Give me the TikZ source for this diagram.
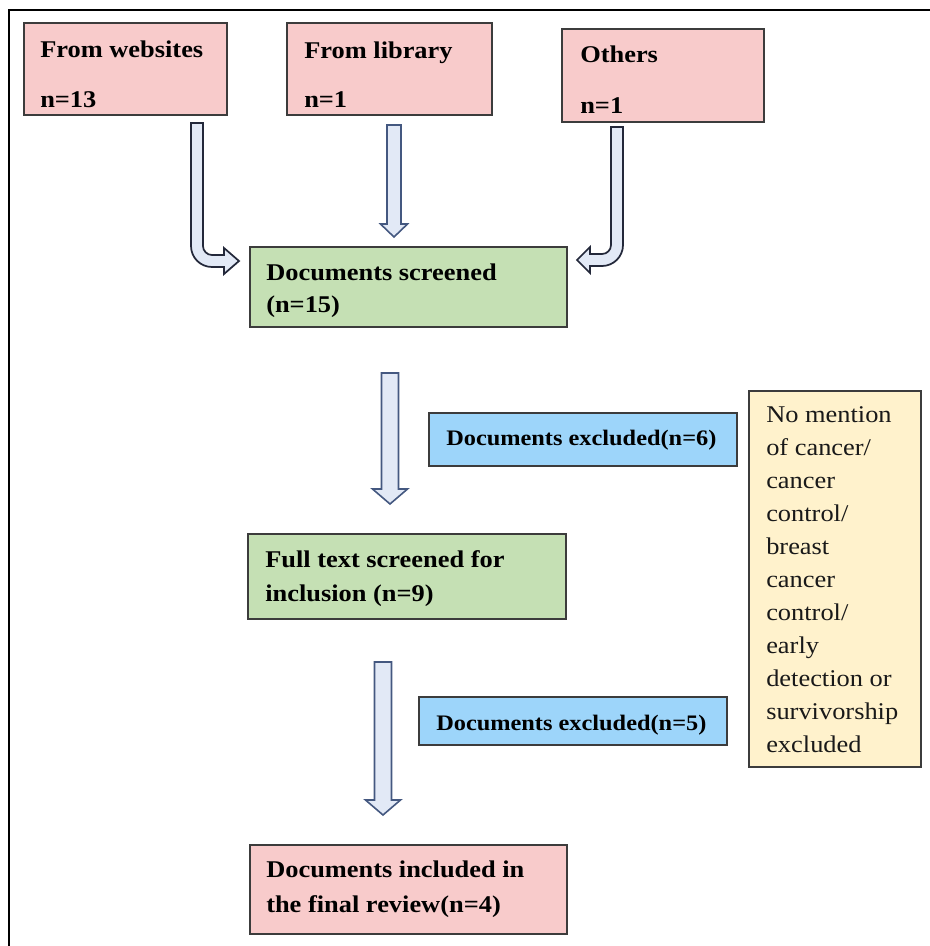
\documentclass[tikz,border=0pt]{standalone}
\usepackage{fontspec}
\setmainfont{Liberation Serif}[FakeStretch=1.1]
\usetikzlibrary{fit}

\definecolor{pinkfill}{RGB}{248,203,203}
\definecolor{greenfill}{RGB}{197,224,180}
\definecolor{bluefill}{RGB}{157,213,250}
\definecolor{notefill}{RGB}{255,242,204}
\definecolor{boxline}{RGB}{60,60,60}
\definecolor{arrowfill}{RGB}{226,233,246}
\definecolor{arrowedge}{RGB}{68,88,128}
\definecolor{bentedge}{RGB}{35,40,58}

\begin{document}
\begin{tikzpicture}[x=0.75pt,y=-0.75pt,
  box/.style={draw=boxline, line width=1.1pt, inner sep=0pt, rectangle},
  bold/.style={font=\fontsize{18}{22}\selectfont\bfseries, inner sep=0pt, anchor=base west, text=black},
  boldsmall/.style={font=\fontsize{16.6}{20}\selectfont\bfseries, inner sep=0pt, anchor=base west, text=black},
  plain/.style={font=\fontsize{18}{22}\selectfont, inner sep=0pt, anchor=base west, text=black!90},
  blockarrow/.style={draw=arrowedge, fill=arrowfill, line width=1.2pt, line join=miter},
  bentarrow/.style={draw=bentedge, fill=arrowfill, line width=1.3pt, line join=miter}]

\useasboundingbox (0,0) rectangle (930,946);

% outer frame (only top and left edges fall inside the page)
\draw[line width=1.8pt] (9,946) -- (9,10) -- (930,10);

% sources
\node[box, fill=pinkfill, fit={(24,23) (227,115)}] (web) {};
\node[bold] (web-1) at (40,57) {From websites};
\node[bold] (web-2) at (40,107) {n=13};

\node[box, fill=pinkfill, fit={(287,23) (492,115)}] (lib) {};
\node[bold] (lib-1) at (304,58) {From library};
\node[bold] (lib-2) at (304,107) {n=1};

\node[box, fill=pinkfill, fit={(562,29) (764,122)}] (oth) {};
\node[bold] (oth-1) at (580,62) {Others};
\node[bold] (oth-2) at (580,113) {n=1};

% screening stages
\node[box, fill=greenfill, fit={(250,247) (567,327)}] (scr) {};
\node[bold] (scr-1) at (266,280) {Documents screened};
\node[bold] (scr-2) at (266,312) {(n=15)};

\node[box, fill=bluefill, fit={(429,413) (737,466)}] (exc1) {};
\node[boldsmall] (exc1-t) at (446,445) {Documents excluded(n=6)};

\node[box, fill=greenfill, fit={(248,534) (566,619)}] (full) {};
\node[bold] (full-1) at (265,567) {Full text screened for};
\node[bold] (full-2) at (265,601) {inclusion (n=9)};

\node[box, fill=bluefill, fit={(419,697) (727,745)}] (exc2) {};
\node[boldsmall] (exc2-t) at (436,730) {Documents excluded(n=5)};

\node[box, fill=pinkfill, fit={(250,845) (567,934)}] (fin) {};
\node[bold] (fin-1) at (266,877) {Documents included in};
\node[bold] (fin-2) at (266,912) {the final review(n=4)};

% exclusion reasons
\node[box, fill=notefill, fit={(749,391) (921,767)}] (note) {};
\foreach \t [count=\i from 0] in {No mention, of cancer/, cancer, control/, breast,
    cancer, control/, early, detection or, survivorship, excluded}
  \node[plain] (note-\i) at (766,422.7+33*\i) {\t};

% arrow tails
\coordinate (webarrow) at (197,123);
\coordinate (libarrow) at (394,125);
\coordinate (otharrow) at (617,127);
\coordinate (scrarrow) at (390,373);
\coordinate (fullarrow) at (383,662);

% bent arrow: websites -> screened
\draw[bentarrow, shift={(webarrow)}]
  (-6,0) -- (-6,123) arc[start angle=180, end angle=90, radius=21]
  -- (27,144) -- (27,151) -- (42,138) -- (27,125) -- (27,132) -- (15,132)
  arc[start angle=90, end angle=180, radius=9] -- (6,0) -- cycle;

% straight arrow: library -> screened
\draw[blockarrow, shift={(libarrow)}]
  (-7,0) -- (-7,99) -- (-13.5,99) -- (0,112) -- (13.5,99) -- (7,99) -- (7,0) -- cycle;

% bent arrow: others -> screened
\draw[bentarrow, shift={(otharrow)}]
  (-6,0) -- (-6,118) arc[start angle=0, end angle=90, radius=9]
  -- (-27,127) -- (-27,120) -- (-40,133) -- (-27,146) -- (-27,139) -- (-15,139)
  arc[start angle=90, end angle=0, radius=21] -- (6,0) -- cycle;

% screened -> full text
\draw[blockarrow, shift={(scrarrow)}]
  (-8.5,0) -- (-8.5,116) -- (-17.5,116) -- (0,131) -- (17.5,116) -- (8.5,116) -- (8.5,0) -- cycle;

% full text -> included
\draw[blockarrow, shift={(fullarrow)}]
  (-8.5,0) -- (-8.5,138) -- (-17.5,138) -- (0,153) -- (17.5,138) -- (8.5,138) -- (8.5,0) -- cycle;

\end{tikzpicture}
\end{document}
